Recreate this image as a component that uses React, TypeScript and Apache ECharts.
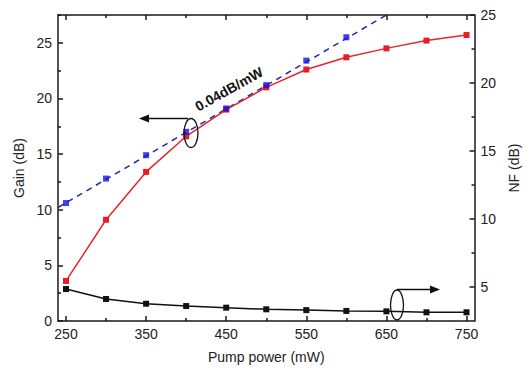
import React, { useEffect, useRef } from "react";
import * as echarts from "echarts";

// Pump power (mW)
const pumpPower = [250, 300, 350, 400, 450, 500, 550, 600, 650, 700, 750];
// Gain (dB), red
const gain = [3.6, 9.1, 13.4, 16.6, 19.0, 21.0, 22.6, 23.7, 24.5, 25.2, 25.7];
// NF (dB), black (right axis)
const noiseFigure = [4.85, 4.12, 3.77, 3.6, 3.48, 3.36, 3.3, 3.24, 3.21, 3.14, 3.14];
// Blue squares (0.04 dB/mW slope points)
const slopePower = [250, 300, 350, 400, 450, 500, 550, 600];
const slopeGain = [10.6, 12.8, 14.9, 17.0, 19.1, 21.2, 23.4, 25.5];
// Dashed linear fit endpoints
const fitPower = [240, 650];
const fitGain = [10.2, 27.5];

// Tick positions
const xMajor = [250, 350, 450, 550, 650, 750];
const xMinor = [300, 400, 500, 600, 700];
const gainMajor = [0, 5, 10, 15, 20, 25];
const gainMinor = [2.5, 7.5, 12.5, 17.5, 22.5, 27.5];
const nfMajor = [5, 10, 15, 20, 25];
const nfMinor = [7.5, 12.5, 17.5, 22.5];

const FONT = "'Liberation Sans', Arial, sans-serif";
const AXIS_COLOR = "#1a1a1a";
const TEXT_COLOR = "#222";

const zip = (xs: number[], ys: number[]) => xs.map((x, i) => [x, ys[i]]);

export default function App() {
  const ref = useRef<HTMLDivElement>(null);

  useEffect(() => {
    if (!ref.current) return;
    const chart = echarts.init(ref.current, null, { renderer: "svg" });

    const lineStyle = { color: AXIS_COLOR, width: 1.5 };
    const label = { color: TEXT_COLOR, fontSize: 14, fontFamily: FONT };

    const xBase = (position: "top" | "bottom", values: number[], len: number, showLine: boolean, showLabel: boolean) => ({
      type: "value" as const,
      position,
      min: 240,
      max: 760,
      axisLine: { show: showLine, onZero: false, lineStyle },
      axisTick: { show: true, inside: true, length: len, customValues: values, lineStyle },
      axisLabel: showLabel ? { ...label, margin: 6, customValues: values } : { show: false },
      splitLine: { show: false },
    });

    const yBase = (position: "left" | "right", min: number, max: number, values: number[], len: number, showLine: boolean, showLabel: boolean) => ({
      type: "value" as const,
      position,
      min,
      max,
      axisLine: { show: showLine, onZero: false, lineStyle },
      axisTick: { show: true, inside: true, length: len, customValues: values, lineStyle },
      axisLabel: showLabel ? { ...label, margin: 6, customValues: values } : { show: false },
      splitLine: { show: false },
    });

    const xAxes: any[] = [
      {
        ...xBase("bottom", xMajor, 5, true, true),
        name: "Pump power (mW)",
        nameLocation: "middle",
        nameGap: 29,
        nameTextStyle: { ...label },
      },
      xBase("bottom", xMinor, 3, false, false),
      xBase("top", xMajor, 5, true, false),
      xBase("top", xMinor, 3, false, false),
    ];

    const yAxes: any[] = [
      {
        ...yBase("left", 0, 27.5, gainMajor, 5, true, true),
        name: "Gain (dB)",
        nameLocation: "middle",
        nameGap: 30,
        nameTextStyle: { ...label },
      },
      {
        ...yBase("right", 2.5, 25, nfMajor, 5, true, true),
        name: "NF (dB)",
        nameLocation: "middle",
        nameGap: 28,
        nameRotate: 90,
        nameTextStyle: { ...label },
      },
      yBase("left", 0, 27.5, gainMinor, 3, false, false),
      yBase("right", 2.5, 25, nfMinor, 3, false, false),
    ];

    chart.setOption({
      animation: false,
      backgroundColor: "#fff",
      grid: { left: 58, right: 43, top: 15, bottom: 51 },
      xAxis: xAxes,
      yAxis: yAxes,
      series: [
        {
          type: "line",
          name: "fit",
          xAxisIndex: 0,
          yAxisIndex: 0,
          data: zip(fitPower, fitGain),
          showSymbol: false,
          symbol: "none",
          lineStyle: { color: "#2626b0", width: 1.5, type: [6, 5] },
          clip: true,
          z: 2,
        },
        {
          type: "scatter",
          name: "slope",
          xAxisIndex: 0,
          yAxisIndex: 0,
          data: zip(slopePower, slopeGain),
          symbol: "rect",
          symbolSize: 6,
          itemStyle: { color: "#1010e8" },
          z: 4,
        },
        {
          type: "line",
          name: "Gain",
          xAxisIndex: 0,
          yAxisIndex: 0,
          data: zip(pumpPower, gain),
          symbol: "rect",
          symbolSize: 6,
          lineStyle: { color: "#e0282c", width: 1.5 },
          itemStyle: { color: "#e81c24" },
          z: 3,
        },
        {
          type: "line",
          name: "NF",
          xAxisIndex: 0,
          yAxisIndex: 1,
          data: zip(pumpPower, noiseFigure),
          symbol: "rect",
          symbolSize: 6,
          lineStyle: { color: "#111", width: 1.5 },
          itemStyle: { color: "#111" },
          z: 3,
        },
      ],
      graphic: [
        {
          type: "text",
          x: 229,
          y: 89,
          rotation: (29 * Math.PI) / 180,
          style: {
            text: "0.04dB/mW",
            fontSize: 14,
            fontWeight: "bold",
            fontFamily: FONT,
            fill: "#111",
            align: "center",
            verticalAlign: "middle",
          },
          z: 10,
        },
        {
          type: "ellipse",
          shape: { cx: 191, cy: 133, rx: 7, ry: 14.5 },
          style: { fill: "none", stroke: "#111", lineWidth: 1.3 },
          z: 10,
        },
        {
          type: "line",
          shape: { x1: 188, y1: 118.5, x2: 146, y2: 118.5 },
          style: { stroke: "#111", lineWidth: 1.3 },
          z: 10,
        },
        {
          type: "polygon",
          shape: { points: [[139, 118.5], [149, 114.5], [149, 122.5]] },
          style: { fill: "#111" },
          z: 10,
        },
        {
          type: "ellipse",
          shape: { cx: 397, cy: 305, rx: 6.5, ry: 15 },
          style: { fill: "none", stroke: "#111", lineWidth: 1.3 },
          z: 10,
        },
        {
          type: "line",
          shape: { x1: 397, y1: 289.5, x2: 432, y2: 289.5 },
          style: { stroke: "#111", lineWidth: 1.3 },
          z: 10,
        },
        {
          type: "polygon",
          shape: { points: [[440, 289.5], [430, 285.5], [430, 293.5]] },
          style: { fill: "#111" },
          z: 10,
        },
      ],
    });

    return () => chart.dispose();
  }, []);

  return (
    <div
      ref={ref}
      style={{ position: "fixed", left: 0, top: 0, width: 529, height: 372, background: "#fff" }}
    />
  );
}
